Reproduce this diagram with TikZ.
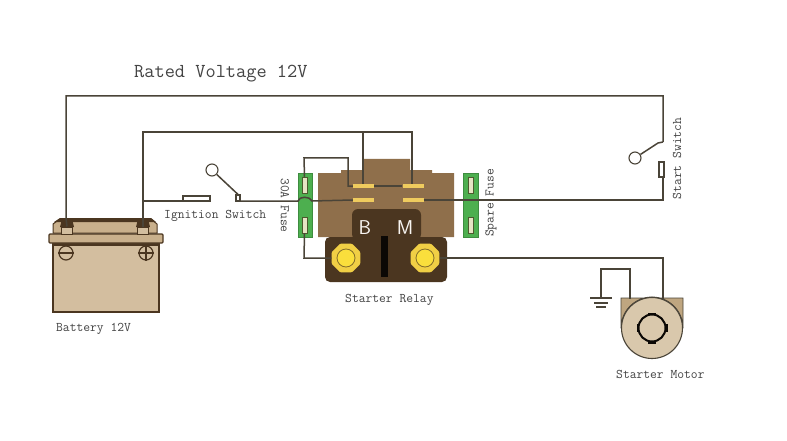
\documentclass[tikz,border=0pt]{standalone}
\usetikzlibrary{shapes.geometric}
\definecolor{wirec}{HTML}{4A4438}
\definecolor{relayc}{HTML}{8F6F4B}
\definecolor{darkb}{HTML}{4B3620}
\definecolor{battc}{HTML}{D3BE9F}
\definecolor{battl}{HTML}{C9B08C}
\definecolor{motorc}{HTML}{D9C8AC}
\definecolor{motorb}{HTML}{BFA680}
\definecolor{greenf}{HTML}{4DAF4F}
\definecolor{slotc}{HTML}{E6E4C4}
\definecolor{bladec}{HTML}{EFCB5E}
\definecolor{nutc}{HTML}{F0CF45}
\definecolor{postc}{HTML}{FADF3C}
\definecolor{txtc}{HTML}{444444}
\tikzset{
  wire/.style={draw=wirec,line width=1.5pt,line join=miter},
  lbl/.style={text=txtc,font=\ttfamily\fontsize{13.2}{13}\selectfont,inner sep=0pt},
  fuseslot/.style={draw=darkb!70!greenf,fill=slotc,line width=0.5pt,minimum width=5pt,minimum height=16pt,inner sep=0pt},
  blade/.style={draw=none,fill=bladec,minimum width=21pt,minimum height=4pt,inner sep=0pt},
  nut/.style={regular polygon,regular polygon sides=8,draw=none,fill=nutc,rounded corners=1pt,minimum size=31pt,inner sep=0pt},
  post/.style={circle,draw=black!30!nutc!60!darkb,fill=postc,line width=0.8pt,minimum size=18pt,inner sep=0pt},
  knob/.style={circle,draw=wirec,fill=white,line width=1.1pt,minimum size=12pt,inner sep=0pt},
  contact/.style={draw=wirec,fill=white,line width=1.1pt,inner sep=0pt},
  termbox/.style={draw=darkb,fill=battc,line width=1pt,minimum width=11pt,minimum height=7pt,inner sep=0pt},
  sign/.style={circle,draw=darkb,line width=1.2pt,minimum size=14pt,inner sep=0pt},
  bump/.style={fill=black!85!darkb,draw=none,minimum width=8pt,minimum height=4pt,inner sep=0pt},
  relaylet/.style={font=\sffamily\fontsize{20}{20}\selectfont,text=white!85!battc,inner sep=0pt},
}
\begin{document}
\begin{tikzpicture}[x=1pt,y=-1pt]
\useasboundingbox[fill=white] (0,0) rectangle (787,441);

% coordinates for wiring
\coordinate (tl) at (66,96);
\coordinate (tr) at (663,96);
\coordinate (il) at (143,132);
\coordinate (ir) at (412,132);
\coordinate (ij) at (363,132);
\coordinate (ic) at (143,201);
\coordinate (fa) at (304,158);
\coordinate (fb) at (348,158);
\coordinate (fc) at (348,186);
\coordinate (fd) at (304,258);
\coordinate (mr) at (663,258);
\coordinate (gl) at (601,269);
\coordinate (gr) at (630,269);
\coordinate (gb) at (601,298);
\coordinate (gm) at (630,299);
\coordinate (mm) at (663,299);
\coordinate (sb) at (663,200);
\coordinate (sa) at (663,142);

% relay body
\fill[relayc] (318,173) -- (341,173) -- (341,170) -- (363,170) -- (363,159) -- (410,159) -- (410,170) -- (432,170) -- (432,173) -- (454,173) -- (454,237) -- (318,237) -- cycle;
\fill[darkb,rounded corners=6pt] (352,240) -- (352,209) -- (421,209) -- (421,240) -- cycle;
\fill[darkb,rounded corners=5pt] (325,237) rectangle (447,282);
\fill[black!85!darkb] (381,236) rectangle (388,277);

% fuses
\node[draw=greenf!80!black,fill=greenf,line width=0.5pt,minimum width=14pt,minimum height=64pt,inner sep=0pt] (fuseA) at (305,205) {};
\node[draw=greenf!80!black,fill=greenf,line width=0.5pt,minimum width=15pt,minimum height=64pt,inner sep=0pt] (fuseS) at (470.5,205) {};
\node[fuseslot] (fa1) at (304.5,185) {};
\node[fuseslot] (fa2) at (304.5,225) {};
\node[fuseslot] (fs1) at (470.5,185) {};
\node[fuseslot] (fs2) at (470.5,225) {};

% blades
\node[blade] (b1) at (363.5,186) {};
\node[blade] (b2) at (413,186) {};
\node[blade] (b3) at (363.5,200) {};
\node[blade] (b4) at (413,200) {};

% posts
\node[nut] (nB) at (346,258) {};
\node[post] (B) at (346,258) {};
\node[nut] (nM) at (425,258) {};
\node[post] (M) at (425,258) {};
\node[relaylet] (lB) at (365,227.5) {B};
\node[relaylet] (lM) at (405,227.5) {M};

% battery
\fill[battl,draw=darkb,line width=1pt] (53,233) -- (53,224) -- (60,219) -- (151,219) -- (157,224) -- (157,233) -- cycle;
\fill[darkb] (60,218) -- (151,218) -- (156,222) -- (54,222) -- cycle;
\node[draw=darkb,fill=battc,line width=1.2pt,minimum width=106pt,minimum height=69pt,inner sep=0pt] (batt) at (106,277.5) {};
\fill[darkb] (53,243) rectangle (159,246);
\fill[battl,draw=darkb,line width=1.2pt,rounded corners=1pt] (49,234) rectangle (163,243);
\fill[darkb] (62,219) -- (72,219) -- (74,227) -- (60,227) -- cycle;
\fill[darkb] (138,219) -- (148,219) -- (150,227) -- (136,227) -- cycle;
\node[termbox] (tminus) at (67,230.5) {};
\node[termbox] (tplus) at (143,230.5) {};
\node[sign] (sm) at (66,253) {};
\draw[darkb,line width=1.2pt] (sm.west) -- (sm.east);
\node[sign] (sp) at (146,253) {};
\draw[darkb,line width=1.2pt] (sp.west) -- (sp.east) (sp.north) -- (sp.south);

% motor
\fill[motorb,draw=wirec,line width=0.8pt] (621,298) -- (683,298) -- (683,328) arc (0:-180:31) -- cycle;
\node[circle,draw=wirec,fill=motorc,line width=1.1pt,minimum size=61pt,inner sep=0pt] (motor) at (652,328) {};
\node[bump] (sh1) at (652,314.5) {};
\node[bump] (sh2) at (652,341.5) {};
\node[bump,rotate=90] (sh3) at (638.5,328) {};
\node[bump,rotate=90] (sh4) at (665.5,328) {};
\node[circle,draw=black!85!darkb,line width=2pt,fill=motorc,minimum size=27pt,inner sep=0pt] (shaft) at (652,328) {};

% wires
\draw[wire] (tminus.north) -- (66,218) -- (tl) -- (tr) -- (sa);
\draw[wire] (tplus.north) -- (il) -- (ir) -- (b2.north -| ir);
\draw[wire] (ij) -- (b1.north -| ij);
\draw[wire] (fa1.north) -- (fa) -- (fb) -- (fc) -- (b1.west);
\draw[wire] (b1.east) -- (b2.west);
\draw[wire] (fa2.south) -- (fd) -- (nB.west);
\draw[wire] (nM.east) -- (mr) -- (mm);
\draw[wire] (gb) -- (gl) -- (gr) -- (gm);
\draw[wire] (ic) -- (183,201);
\draw[wire] (240,201) -- (298,201) .. controls (299,196) and (310,196) .. (312,201) -- (b3.west);
\draw[wire] (b4.east) -- (sb) -- (663,177);

% ground
\draw[wirec,line width=1.1pt] (590,298) -- (612,298);
\draw[wirec,line width=1.1pt] (594,303) -- (608,303);
\draw[wirec,line width=1.1pt] (596,307) -- (606,307);

% ignition switch
\node[contact,minimum width=27pt,minimum height=5pt] (ic1) at (196.5,198.5) {};
\node[contact,minimum width=4pt,minimum height=6pt] (ic2) at (238,198) {};
\node[knob] (ik) at (212,170) {};
\draw[wire] (ik) -- (ic2.north);

% start switch
\node[contact,minimum width=5pt,minimum height=15pt] (sc) at (661.5,169.5) {};
\node[knob] (sk) at (635,158) {};
\draw[wire] (sk) -- (658,143) -- (sa);

% labels
\node[lbl,font=\ttfamily\fontsize{19.8}{20}\selectfont,anchor=west] (title) at (134,74) {Rated Voltage 12V};
\node[lbl,anchor=west] (ign) at (164,216) {Ignition Switch};
\node[lbl,rotate=-90] (f30) at (285,205.5) {30A Fuse};
\node[lbl,rotate=90] (fsp) at (491,203) {Spare Fuse};
\node[lbl,rotate=90] (ssw) at (677,158.5) {Start Switch};
\node[lbl,anchor=west] (rel) at (345,299.5) {Starter Relay};
\node[lbl,anchor=west] (bat) at (56,328.5) {Battery 12V};
\node[lbl,anchor=west] (mot) at (616,374) {Starter Motor};
\end{tikzpicture}
\end{document}
